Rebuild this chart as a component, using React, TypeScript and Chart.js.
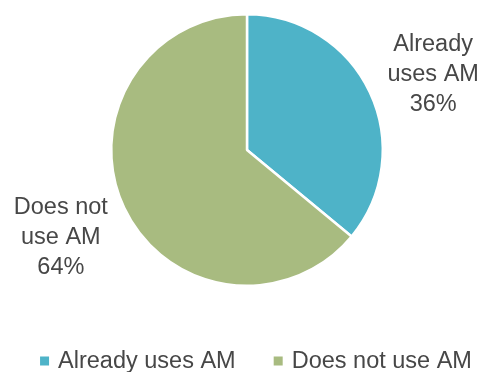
import React, { useEffect, useRef } from "react";
import { Chart, registerables } from "chart.js";

Chart.register(...registerables);

const categories = ["Already uses AM", "Does not use AM"];
const labelLines = [["Already", "uses AM"], ["Does not", "use AM"]];
const values = [36, 64];
const colors = ["#4EB3C8", "#A8BB80"];

const TEXT_COLOR = "#474747";
const FONT = "Liberation Sans, Arial, sans-serif";

const labelPlugin = {
  id: "outsideLabels",
  afterDraw(chart: any) {
    const ctx = chart.ctx;
    const meta = chart.getDatasetMeta(0);
    const total = values.reduce((a, b) => a + b, 0);
    ctx.save();
    ctx.fillStyle = TEXT_COLOR;
    ctx.font = `23.5px ${FONT}`;
    ctx.textAlign = "center";
    ctx.textBaseline = "middle";
    meta.data.forEach((arc: any, i: number) => {
      const { x, y, startAngle, endAngle, outerRadius } = arc.getProps(
        ["x", "y", "startAngle", "endAngle", "outerRadius"],
        true
      );
      const mid = (startAngle + endAngle) / 2;
      const lx = x + Math.cos(mid) * (outerRadius + 70);
      const ly = y + 6 + Math.sin(mid) * (outerRadius + 55);
      const pct = Math.round((values[i] / total) * 100) + "%";
      const lines = [...labelLines[i], pct];
      const lh = 30;
      lines.forEach((t, k) => {
        ctx.fillText(t, lx, ly + (k - (lines.length - 1) / 2) * lh);
      });
    });

    // legend
    const box = 9;
    const gapText = 9;
    const gapItem = 38;
    ctx.font = `23.5px ${FONT}`;
    ctx.textAlign = "left";
    const widths = categories.map((c) => ctx.measureText(c).width);
    const total_w = widths.reduce((a, w) => a + box + gapText + w, 0) + gapItem * (categories.length - 1);
    let cx = 256 - total_w / 2;
    const cy = 361;
    categories.forEach((c, i) => {
      ctx.fillStyle = colors[i];
      ctx.fillRect(cx, cy - box / 2, box, box);
      cx += box + gapText;
      ctx.fillStyle = TEXT_COLOR;
      ctx.fillText(c, cx, cy + 1);
      cx += widths[i] + gapItem;
    });
    ctx.restore();
  },
};

export default function App() {
  const ref = useRef<HTMLCanvasElement>(null);
  useEffect(() => {
    if (!ref.current) return;
    const chart = new Chart(ref.current, {
      type: "pie",
      data: {
        labels: categories,
        datasets: [
          {
            data: values,
            backgroundColor: colors,
            borderColor: "#ffffff",
            borderWidth: 2.5,
          },
        ],
      },
      options: {
        responsive: false,
        animation: false,
        layout: { padding: { left: 14, right: 0, top: 13, bottom: 85 } },
        plugins: {
          legend: { display: false },
          tooltip: { enabled: false },
        },
      },
      plugins: [labelPlugin],
    });
    return () => chart.destroy();
  }, []);
  return (
    <div style={{ position: "fixed", left: 0, top: 0, width: 480, height: 372, background: "#fff" }}>
      <canvas ref={ref} width={480} height={372} />
    </div>
  );
}
